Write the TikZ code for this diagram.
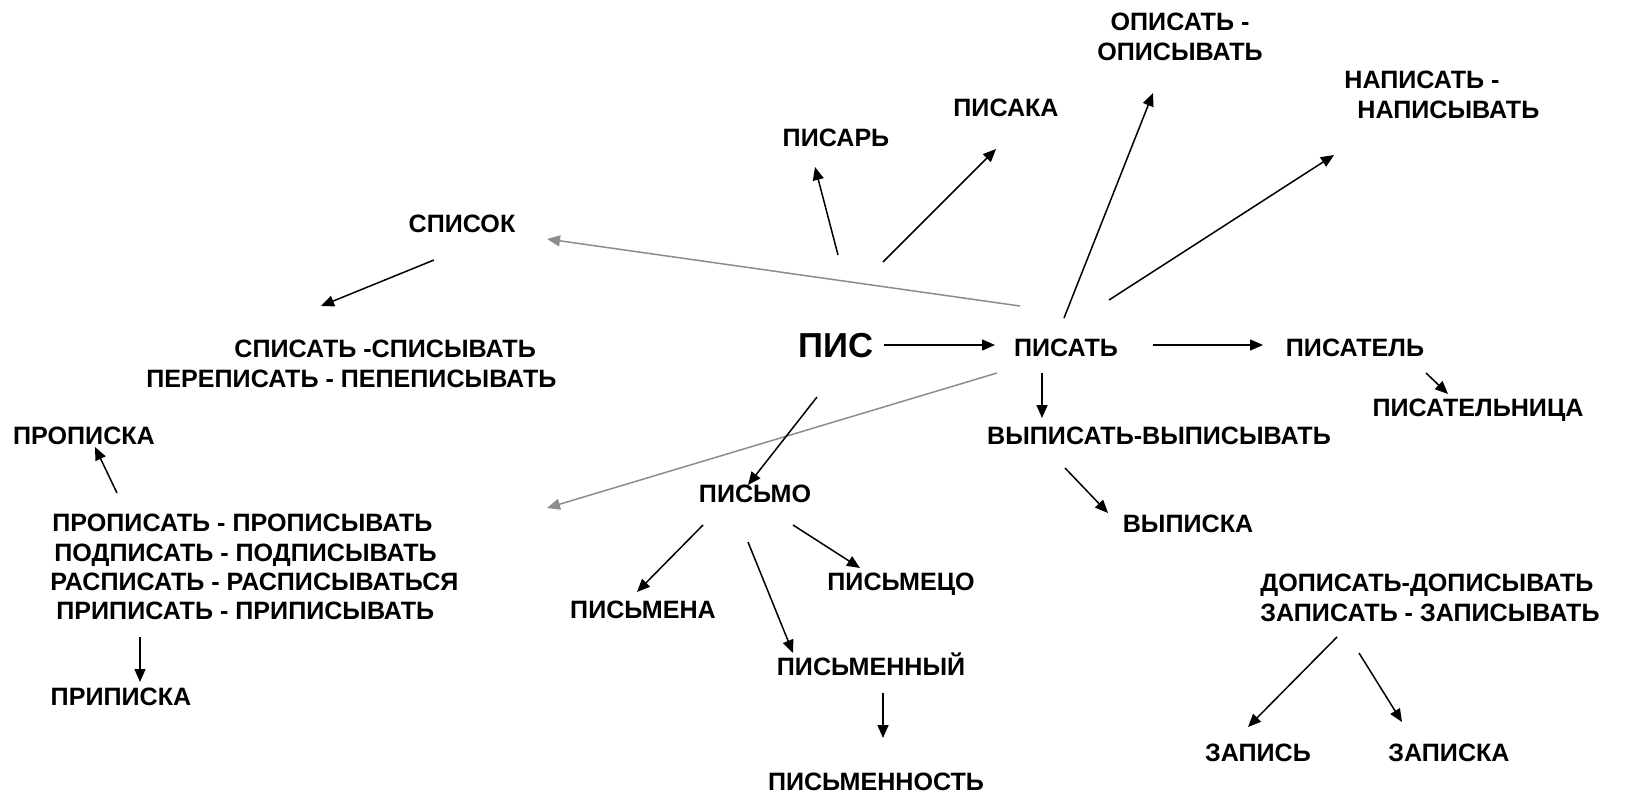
\documentclass[tikz,border=0pt]{standalone}
\usepackage{fontspec}
\setmainfont{Liberation Sans}
\usetikzlibrary{arrows.meta,calc}

\tikzset{
    word/.style={font=\fontsize{12.6}{14.6}\selectfont\bfseries, inner sep=0pt, text height=9pt, text depth=0pt},
    block/.style={font=\fontsize{12.6}{14.6}\selectfont\bfseries, inner sep=0pt},
    arr/.style={-{Triangle[length=6.5bp,width=5.5bp]}, line width=0.75bp},
    grayarr/.style={arr, draw=black!45},
}

\begin{document}
\begin{tikzpicture}[x=0.5bp, y=-0.5bp]
    \useasboundingbox (0,0) rectangle (1626,798);

    \node[word, font=\fontsize{17.4}{20}\selectfont\bfseries, text height=12.5pt] (pis) at (836,345) {ПИС};
    \node[word] (pisat) at (1066,348) {ПИСАТЬ};
    \node[word] (pisatel) at (1355,348) {ПИСАТЕЛЬ};
    \node[word] (pisatelnica) at (1478,408) {ПИСАТЕЛЬНИЦА};
    \node[word] (vypisat) at (1159,436) {ВЫПИСАТЬ-ВЫПИСЫВАТЬ};
    \node[word] (vypiska) at (1188,524) {ВЫПИСКА};
    \node[word] (pisaka) at (1006,108) {ПИСАКА};
    \node[word] (pisar) at (836,138) {ПИСАРЬ};
    \node[word] (spisok) at (462,224) {СПИСОК};
    \node[word] (propiska) at (84,436) {ПРОПИСКА};
    \node[word] (pripiska) at (121,697) {ПРИПИСКА};
    \node[word] (pismo) at (755,494) {ПИСЬМО};
    \node[word] (pismena) at (643,610) {ПИСЬМЕНА};
    \node[word] (pismeco) at (901,582) {ПИСЬМЕЦО};
    \node[word] (pismenny) at (871,667) {ПИСЬМЕННЫЙ};
    \node[word] (pismennost) at (876,782) {ПИСЬМЕННОСТЬ};
    \node[word] (zapis) at (1258,753) {ЗАПИСЬ};
    \node[word] (zapiska) at (1449,753) {ЗАПИСКА};

    \node[block, align=center, anchor=north] (opis) at (1180,13) {ОПИСАТЬ -\\ОПИСЫВАТЬ};
    \node[block, align=left, anchor=north west] (napis) at (1344,71) {НАПИСАТЬ -\\\hspace*{6.5bp}НАПИСЫВАТЬ};
    \node[block, align=left, anchor=north west] (spisat) at (146,340) {\hspace*{44bp}СПИСАТЬ -СПИСЫВАТЬ\\ПЕРЕПИСАТЬ - ПЕПЕПИСЫВАТЬ};
    \node[block, align=left, anchor=north west] (propis) at (50,514) {\hspace*{1bp}ПРОПИСАТЬ - ПРОПИСЫВАТЬ\\\hspace*{2bp}ПОДПИСАТЬ - ПОДПИСЫВАТЬ\\РАСПИСАТЬ - РАСПИСЫВАТЬСЯ\\\hspace*{3bp}ПРИПИСАТЬ - ПРИПИСЫВАТЬ};
    \node[block, align=left, anchor=north west] (dopis) at (1260,574) {ДОПИСАТЬ-ДОПИСЫВАТЬ\\ЗАПИСАТЬ - ЗАПИСЫВАТЬ};

    \draw[arr] ($(pis)+(48,0)$) -- ($(pisat)+(-71,-3)$);
    \draw[arr] ($(pisat)+(87,-3)$) -- ($(pisatel)+(-92,-3)$);
    \draw[arr] ($(pisat)+(-24,25)$) -- ($(vypisat)+(-117,-18)$);
    \draw[arr] ($(vypisat)+(-94,32)$) -- ($(vypiska)+(-80,-11)$);
    \draw[arr] ($(pisatel)+(71,25)$) -- ($(pisatelnica)+(-30,-14)$);
    \draw[arr] ($(pisat)+(-2,-30)$) -- ($(opis.north)+(-27,80)$);
    \draw[arr] ($(pisat)+(43,-48)$) -- ($(napis.north west)+(-10,84)$);
    \draw[grayarr] ($(pisat)+(-46,-42)$) -- ($(spisok)+(85,15)$);
    \draw[grayarr] ($(pisat)+(-69,25)$) -- ($(propis.north west)+(497,-6)$);
    \draw[arr] ($(pis)+(2,-90)$) -- ($(pisar)+(-21,29)$);
    \draw[arr] ($(pis)+(47,-83)$) -- ($(pisaka)+(-10,41)$);
    \draw[arr] ($(spisok)+(-28,36)$) -- ($(spisat.north west)+(175,-34)$);
    \draw[arr] ($(pis)+(-19,52)$) -- ($(pismo)+(-7,-9)$);
    \draw[arr] ($(pismo)+(-52,31)$) -- ($(pismena)+(-6,-18)$);
    \draw[arr] ($(pismo)+(38,31)$) -- ($(pismeco)+(-41,-14)$);
    \draw[arr] ($(pismo)+(-7,48)$) -- ($(pismenny)+(-78,-14)$);
    \draw[arr] ($(pismenny)+(12,26)$) -- ($(pismennost)+(7,-44)$);
    \draw[arr] ($(propis.north west)+(67,-21)$) -- ($(propiska)+(11,11)$);
    \draw[arr] ($(propis.north west)+(90,123)$) -- ($(pripiska)+(19,-15)$);
    \draw[arr] ($(dopis.north west)+(77,63)$) -- ($(zapis)+(-10,-26)$);
    \draw[arr] ($(dopis.north west)+(99,79)$) -- ($(zapiska)+(-47,-31)$);
\end{tikzpicture}
\end{document}
